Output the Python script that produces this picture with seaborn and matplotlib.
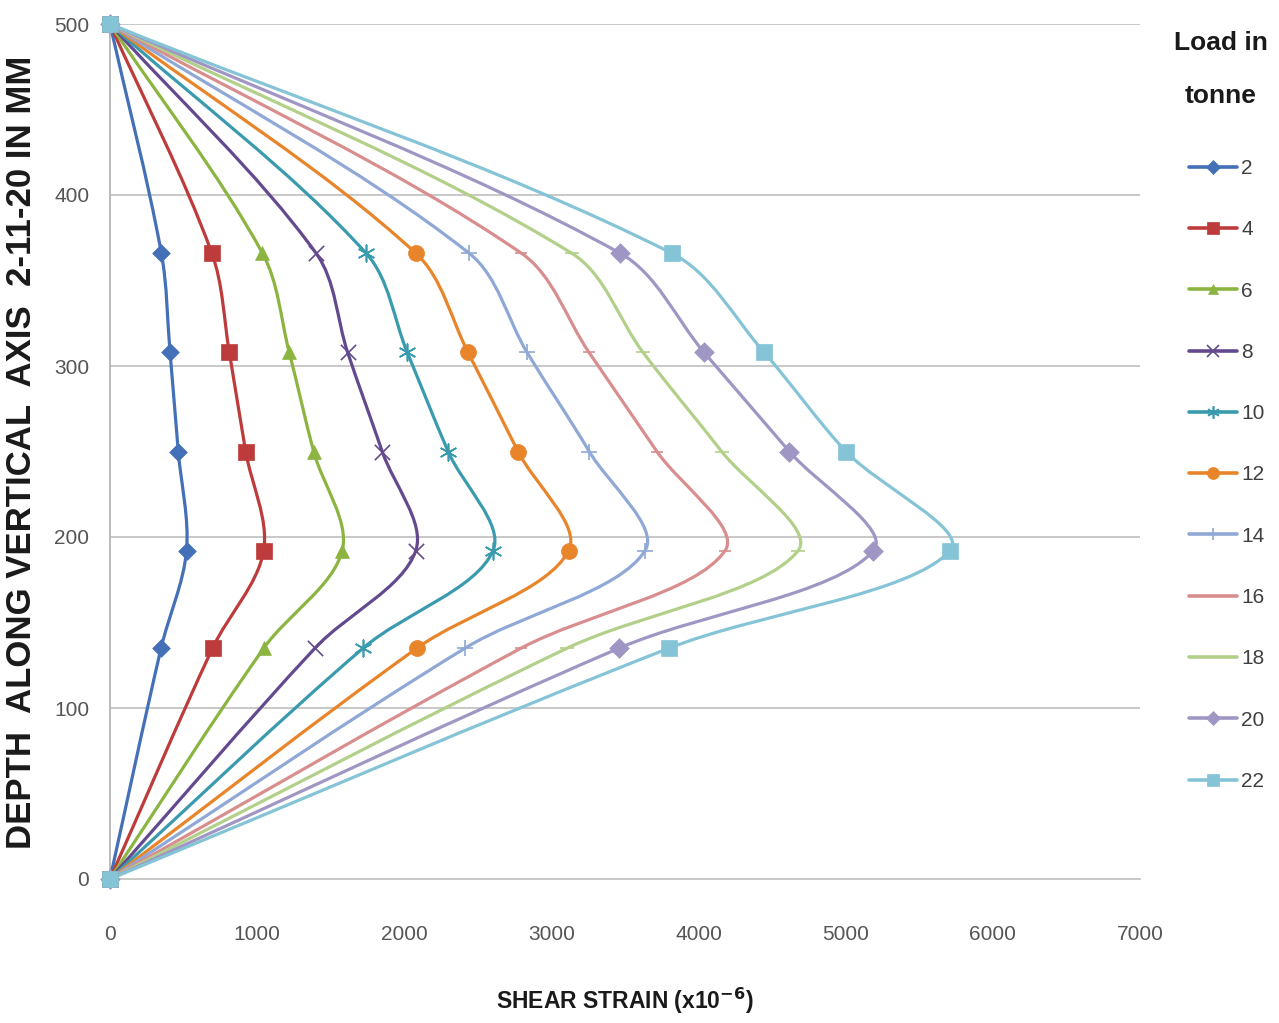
import numpy as np
import pandas as pd
import matplotlib
matplotlib.use("Agg")
import matplotlib.pyplot as plt
import seaborn as sns
from matplotlib.path import Path
from matplotlib.patches import PathPatch
from matplotlib.lines import Line2D

# depth of the gauge points (mm), top to bottom
depth = [500, 366, 308, 250, 192, 135, 0]

loads = [2, 4, 6, 8, 10, 12, 14, 16, 18, 20, 22]

# shear strain (x10^-6) read at each depth
strain_2 = [0, 349, 408, 464, 520, 347, 0]
strain_4 = [0, 692, 811, 922, 1044, 697, 0]
strain_6 = [0, 1036, 1218, 1384, 1578, 1045, 0]
strain_8 = [0, 1400, 1615, 1850, 2078, 1393, 0]
strain_10 = [0, 1740, 2020, 2298, 2603, 1720, 0]
strain_12 = [0, 2078, 2433, 2773, 3117, 2086, 0]
strain_14 = [0, 2440, 2834, 3257, 3636, 2413, 0]
strain_16 = [0, 2795, 3255, 3717, 4180, 2794, 0]
strain_18 = [0, 3137, 3622, 4157, 4676, 3107, 0]
strain_20 = [0, 3466, 4037, 4617, 5188, 3460, 0]
strain_22 = [0, 3817, 4445, 5002, 5709, 3800, 0]

strains = [strain_2, strain_4, strain_6, strain_8, strain_10, strain_12,
           strain_14, strain_16, strain_18, strain_20, strain_22]

colors = ["#4470B8", "#BE3B3B", "#8CB440", "#634A8E", "#3A9AAE", "#E8842A",
          "#8FA8D6", "#D88E8E", "#B3D08A", "#A096C4", "#85C4D6"]
markers = ["D", "s", "^", "x", (6, 2, 0), "o", "+", "_", "_", "D", "s"]
msizes = [9, 11, 10, 11, 12, 11.5, 11, 8, 10, 10, 12]

df = pd.concat([pd.DataFrame({"load": ld, "depth": depth, "strain": s})
                for ld, s in zip(loads, strains)], ignore_index=True)

sns.set_theme(style="white")
plt.rcParams["font.family"] = ["Liberation Sans", "DejaVu Sans"]

# axes size in pixels, used only to measure chord lengths for the smoothing
AX_W, AX_H = 1030, 855


def smooth_path(xs, ys):
    # excel-like smoothed line: cubic bezier through every point,
    # tangent handles weighted by neighbouring chord lengths
    p = np.column_stack([xs, ys]).astype(float)
    scale = np.array([AX_W / 7000, AX_H / 500])
    n = len(p)
    d = np.linalg.norm(np.diff(p * scale, axis=0), axis=1)
    tang = np.zeros_like(p)
    tang[0] = p[1] - p[0]
    tang[-1] = p[-1] - p[-2]
    tang[1:-1] = p[2:] - p[:-2]
    dd = np.concatenate([[0], d, [0]])
    verts = [p[0]]
    codes = [Path.MOVETO]
    for i in range(n - 1):
        f1 = d[i] / (dd[i] + d[i]) / 3
        f2 = d[i] / (d[i] + dd[i + 2]) / 3
        verts += [p[i] + tang[i] * f1, p[i + 1] - tang[i + 1] * f2, p[i + 1]]
        codes += [Path.CURVE4] * 3
    return Path(verts, codes)


fig = plt.figure(figsize=(12.79, 10.23), dpi=100)
ax = fig.add_axes([110 / 1279, 1 - 879 / 1023, AX_W / 1279, AX_H / 1023])

handles = []
for ld, c, m, ms in zip(loads, colors, markers, msizes):
    sub = df[df["load"] == ld]
    ax.add_patch(PathPatch(smooth_path(sub["strain"], sub["depth"]), fill=False,
                           edgecolor=c, lw=2.3, zorder=3))
    filled = matplotlib.markers.MarkerStyle(m).is_filled()
    kw = dict(edgecolor=c, linewidth=0.5) if filled else dict(linewidth=1.2)
    sns.scatterplot(data=sub, x="strain", y="depth", ax=ax, marker=m, s=ms ** 2,
                    color=c, zorder=4, clip_on=False, legend=False, **kw)
    handles.append(Line2D([0], [0], color=c, lw=2.6, marker=m, markersize=ms * 0.75,
                          markeredgecolor=c, markeredgewidth=1.2 if not filled else 0.5,
                          label=str(ld)))

ax.set_xlim(0, 7000)
ax.set_ylim(0, 500)
ax.set_xticks(range(0, 7001, 1000))
ax.set_yticks(range(0, 501, 100))
ax.grid(axis="y", color="#C8C8C8", lw=1.4)
ax.grid(axis="x", visible=False)
for side in ["top", "right"]:
    ax.spines[side].set_visible(False)
ax.spines["left"].set_color("#B0B0B0")
ax.spines["bottom"].set_color("#C8C8C8")
ax.spines["left"].set_linewidth(1.2)
ax.spines["bottom"].set_linewidth(1.4)
ax.tick_params(axis="x", length=0, pad=33, labelsize=15, labelcolor="#555555")
ax.tick_params(axis="y", length=0, pad=15, labelsize=15, labelcolor="#555555")
ax.set_xlabel("")
ax.set_ylabel("")

fig.text(625 / 1279, 1 - 1001 / 1023, r"SHEAR STRAIN (x10$^{\mathbf{-6}}$)", ha="center",
         va="center", fontsize=16.5, fontweight="bold", color="#1A1A1A")
fig.text(22 / 1279, 1 - 452 / 1023, "DEPTH  ALONG VERTICAL  AXIS  2-11-20 IN MM",
         rotation=90, ha="center", va="center", fontsize=25, fontweight="bold",
         color="#1A1A1A")
fig.text(1221 / 1279, 1 - 50 / 1023, "Load in", ha="center", va="baseline",
         fontsize=19, fontweight="bold", color="#1A1A1A")
fig.text(1221 / 1279, 1 - 103 / 1023, "tonne", ha="center", va="baseline",
         fontsize=19, fontweight="bold", color="#1A1A1A")

fig.legend(handles=handles, loc="upper left", bbox_to_anchor=(1189 / 1279, 1 - 159 / 1023),
           frameon=False, fontsize=15, labelcolor="#404040", handlelength=2.3,
           handletextpad=0.2, labelspacing=2.03, borderaxespad=0, borderpad=0)

fig.savefig("out.png", dpi=100)
